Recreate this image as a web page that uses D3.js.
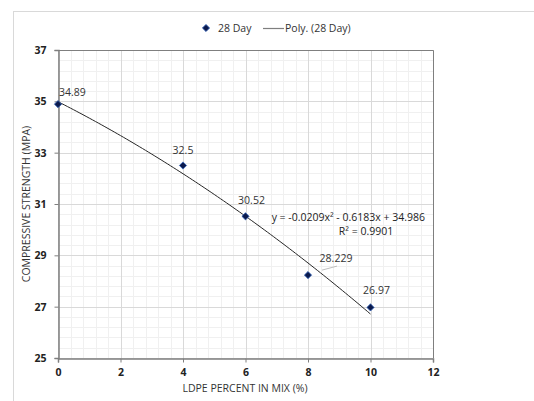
<!DOCTYPE html>
<html>
<head>
<meta charset="utf-8">
<script src="https://cdn.jsdelivr.net/npm/d3@7"></script>
<style>
  body { margin: 0; background: #fff; }
  text { font-family: "Open Sans", "Liberation Sans", sans-serif; }
</style>
</head>
<body>
<div id="app"></div>
<script>
// data
const ldpe = [0, 4, 6, 8, 10];
const strength28 = [34.89, 32.5, 30.52, 28.229, 26.97];
const pointLabels = ['34.89', '32.5', '30.52', '28.229', '26.97'];
const polyCoef = [34.986, -0.6183, -0.0209]; // c0 + c1 x + c2 x^2
const xTicks = [0, 2, 4, 6, 8, 10, 12];
const yTicks = [25, 27, 29, 31, 33, 35, 37];

const W = 534, H = 401;
const svg = d3.select('#app').append('svg')
  .attr('width', W).attr('height', H);

// outer chart frame
svg.append('rect')
  .attr('x', 13.5).attr('y', 11.5)
  .attr('width', W).attr('height', H)
  .attr('fill', '#fff').attr('stroke', '#d9d9d9');

const x = d3.scaleLinear().domain([0, 12]).range([58, 433]);
const y = d3.scaleLinear().domain([25, 37]).range([358, 50]);

// minor grid
const minorX = d3.range(0, 12.001, 0.4);
const minorY = d3.range(25, 37.001, 0.4);
const grid = svg.append('g');
grid.selectAll('.mx').data(minorX).enter().append('line')
  .attr('x1', d => Math.round(x(d)) + 0.5).attr('x2', d => Math.round(x(d)) + 0.5)
  .attr('y1', y(25)).attr('y2', y(37))
  .attr('stroke', '#f0f0f0');
grid.selectAll('.my').data(minorY).enter().append('line')
  .attr('y1', d => Math.round(y(d)) + 0.5).attr('y2', d => Math.round(y(d)) + 0.5)
  .attr('x1', x(0)).attr('x2', x(12))
  .attr('stroke', '#f0f0f0');
// major grid
grid.selectAll('.Mx').data(xTicks).enter().append('line')
  .attr('x1', d => Math.round(x(d)) + 0.5).attr('x2', d => Math.round(x(d)) + 0.5)
  .attr('y1', y(25)).attr('y2', y(37))
  .attr('stroke', '#d9d9d9');
grid.selectAll('.My').data(yTicks).enter().append('line')
  .attr('y1', d => Math.round(y(d)) + 0.5).attr('y2', d => Math.round(y(d)) + 0.5)
  .attr('x1', x(0)).attr('x2', x(12))
  .attr('stroke', '#d9d9d9');

// plot border top / right
svg.append('path')
  .attr('d', `M${x(0)},${Math.round(y(37)) + 0.5}H${Math.round(x(12)) + 0.5}V${y(25)}`)
  .attr('fill', 'none').attr('stroke', '#7f7f7f');

// axes
const xAxis = svg.append('g')
  .attr('transform', `translate(0,${Math.round(y(25)) + 0.5})`)
  .call(d3.axisBottom(x).tickValues(xTicks).tickSize(4).tickPadding(6));
const yAxis = svg.append('g')
  .attr('transform', `translate(${Math.round(x(0)) + 0.5},0)`)
  .call(d3.axisLeft(y).tickValues(yTicks).tickSize(4).tickPadding(8));
[xAxis, yAxis].forEach(a => {
  a.select('.domain').attr('stroke', '#7f7f7f').attr('stroke-width', 1.5);
  a.selectAll('.tick line').attr('stroke', '#7f7f7f');
  a.selectAll('text').attr('font-size', 10.5).attr('font-weight', 'bold')
    .attr('fill', '#222').style('font-family', '"Open Sans", sans-serif');
});

// axis titles
svg.append('text')
  .attr('x', 245).attr('y', 392)
  .attr('text-anchor', 'middle').attr('font-size', 10.5).attr('fill', '#333')
  .text('LDPE PERCENT IN MIX (%)');
svg.append('text')
  .attr('transform', 'translate(30,204) rotate(-90)')
  .attr('text-anchor', 'middle').attr('font-size', 10.5).attr('fill', '#333')
  .text('COMPRESSIVE STRENGTH (MPA)');

// trendline
const poly = v => polyCoef[0] + polyCoef[1] * v + polyCoef[2] * v * v;
const trendX = d3.range(0, 10.001, 0.1);
svg.append('path')
  .datum(trendX)
  .attr('d', d3.line().x(d => x(d)).y(d => y(poly(d))))
  .attr('fill', 'none').attr('stroke', '#262626').attr('stroke-width', 1);

// diamond marker (square rotated)
const diamond = 'M0,-3.6L3.6,0L0,3.6L-3.6,0Z';

// points
const pts = ldpe.map((v, i) => ({ x: v, y: strength28[i], label: pointLabels[i] }));
svg.selectAll('.pt').data(pts).enter().append('path')
  .attr('transform', d => `translate(${x(d.x)},${y(d.y)})`)
  .attr('d', diamond)
  .attr('fill', '#0b1a4d').attr('stroke', '#2e5fb8').attr('stroke-width', 0.8);

// data labels (offsets as placed in the chart)
const labelOff = [[1, -8], [0, -12], [6, -12], [28, -13], [6, -13]];
svg.selectAll('.lbl').data(pts).enter().append('text')
  .attr('x', (d, i) => x(d.x) + labelOff[i][0])
  .attr('y', (d, i) => y(d.y) + labelOff[i][1])
  .attr('text-anchor', (d, i) => i === 0 ? 'start' : 'middle')
  .attr('font-size', 10.5).attr('fill', '#333')
  .text(d => d.label);
// leader line for 28.229
svg.append('line')
  .attr('x1', x(8) + 14).attr('y1', y(28.229) - 5)
  .attr('x2', x(8) + 29).attr('y2', y(28.229) - 9)
  .attr('stroke', '#bfbfbf').attr('stroke-width', 1);

// equation
svg.append('text')
  .attr('x', 425).attr('y', 221).attr('text-anchor', 'end')
  .attr('font-size', 10.5).attr('fill', '#222')
  .text('y = -0.0209x² - 0.6183x + 34.986');
svg.append('text')
  .attr('x', 366).attr('y', 235).attr('text-anchor', 'middle')
  .attr('font-size', 10.5).attr('fill', '#222')
  .text('R² = 0.9901');

// legend
const leg = svg.append('g');
leg.append('path')
  .attr('transform', 'translate(206,28)')
  .attr('d', diamond)
  .attr('fill', '#0b1a4d').attr('stroke', '#2e5fb8').attr('stroke-width', 0.8);
leg.append('text').attr('x', 218).attr('y', 32)
  .attr('font-size', 10.5).attr('fill', '#333').text('28 Day');
leg.append('line').attr('x1', 263).attr('x2', 284).attr('y1', 28.5).attr('y2', 28.5)
  .attr('stroke', '#7f7f7f').attr('stroke-width', 1.2);
leg.append('text').attr('x', 285).attr('y', 32)
  .attr('font-size', 10.5).attr('fill', '#333').text('Poly. (28 Day)');
</script>
</body>
</html>
